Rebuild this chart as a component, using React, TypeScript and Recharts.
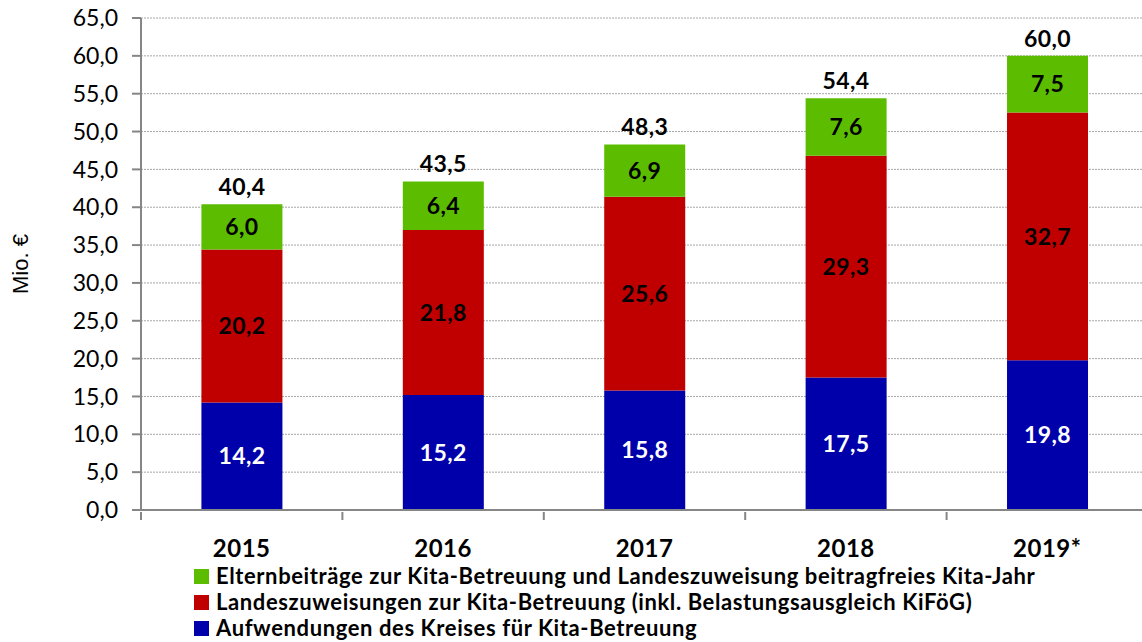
import { BarChart, Bar, XAxis, YAxis, CartesianGrid, LabelList } from 'recharts';

const years = ['2015', '2016', '2017', '2018', '2019*'];
const kreis = [14.2, 15.2, 15.8, 17.5, 19.8];
const land = [20.2, 21.8, 25.6, 29.3, 32.7];
const eltern = [6.0, 6.4, 6.9, 7.6, 7.5];
const totals = [40.4, 43.5, 48.3, 54.4, 60.0];
const yTicks = [0, 5, 10, 15, 20, 25, 30, 35, 40, 45, 50, 55, 60, 65];

const seriesNames = {
  eltern: 'Elternbeiträge zur Kita-Betreuung und Landeszuweisung beitragfreies Kita-Jahr',
  land: 'Landeszuweisungen zur Kita-Betreuung (inkl. Belastungsausgleich KiFöG)',
  kreis: 'Aufwendungen des Kreises für Kita-Betreuung',
};

const COLORS = { kreis: '#0000AA', land: '#C00000', eltern: '#5CBD00' };
const AXIS = '#868686';
const FONT = 'Lato, "Open Sans", sans-serif';

const CHART_W = 1150;
const CHART_H = 642;
const PLOT_LEFT = 141;
const PLOT_RIGHT = 2;
const BAND = (CHART_W - PLOT_LEFT - PLOT_RIGHT) / years.length;

const data = years.map((year, i) => ({
  year,
  kreis: kreis[i],
  land: land[i],
  eltern: eltern[i],
  total: totals[i],
}));

const fmt = (v: number) => v.toFixed(1).replace('.', ',');

const YearTick = (props: any) => {
  const { x, y, payload } = props;
  return (
    <g>
      <line x1={x - BAND / 2} x2={x - BAND / 2} y1={y} y2={y + 8} stroke={AXIS} strokeWidth={2} />
      <text x={x} y={y + 45} textAnchor="middle" fontFamily={FONT} fontWeight={700} fontSize={24} letterSpacing={0.5} fill="#000">
        {payload.value}
      </text>
    </g>
  );
};

const TotalLabel = (props: any) => {
  const { x, y, width, index } = props;
  return (
    <text x={x + width / 2} y={y - 9} textAnchor="middle" fontFamily={FONT} fontWeight={700} fontSize={23} letterSpacing={0.4} fill="#000">
      {fmt(totals[index])}
    </text>
  );
};

const legendRows = [
  { key: 'eltern', color: COLORS.eltern, label: seriesNames.eltern },
  { key: 'land', color: COLORS.land, label: seriesNames.land },
  { key: 'kreis', color: COLORS.kreis, label: seriesNames.kreis },
];

const segLabel = { fontFamily: FONT, fontWeight: 700, fontSize: 23, letterSpacing: 0.4 };

export default function App() {
  return (
    <div style={{ position: 'absolute', left: 0, top: 0, width: 1142, height: 642, overflow: 'hidden', background: '#fff' }}>
      <BarChart
        width={CHART_W}
        height={CHART_H}
        data={data}
        margin={{ top: 18, right: PLOT_RIGHT, left: 0, bottom: 0 }}
        barCategoryGap="30%"
      >
        <CartesianGrid vertical={false} stroke="#A6A6A6" strokeDasharray="2 1" />
        <XAxis
          dataKey="year"
          height={132}
          axisLine={{ stroke: AXIS, strokeWidth: 2 }}
          tickLine={false}
          tickSize={0}
          tick={<YearTick />}
          interval={0}
        />
        <YAxis
          width={PLOT_LEFT}
          domain={[0, 65]}
          ticks={yTicks}
          interval={0}
          axisLine={{ stroke: AXIS, strokeWidth: 2 }}
          tickLine={{ stroke: AXIS, strokeWidth: 2 }}
          tickSize={9}
          tickMargin={14}
          tickFormatter={fmt}
          tick={{ fontFamily: FONT, fontSize: 23, fill: '#000' }}
          label={{
            value: 'Mio. €',
            angle: -90,
            position: 'insideLeft',
            offset: 20,
            style: { fontFamily: '"Liberation Sans", Arial, sans-serif', fontSize: 22, fill: '#000', textAnchor: 'middle' },
          }}
        />
        <Bar dataKey="kreis" stackId="a" fill={COLORS.kreis} isAnimationActive={false}>
          <LabelList dataKey="kreis" position="center" formatter={fmt} fill="#fff" {...segLabel} />
        </Bar>
        <Bar dataKey="land" stackId="a" fill={COLORS.land} isAnimationActive={false}>
          <LabelList dataKey="land" position="center" formatter={fmt} fill="#000" {...segLabel} />
        </Bar>
        <Bar dataKey="eltern" stackId="a" fill={COLORS.eltern} isAnimationActive={false}>
          <LabelList dataKey="eltern" position="center" formatter={fmt} fill="#000" {...segLabel} />
          <LabelList dataKey="total" content={<TotalLabel />} />
        </Bar>
      </BarChart>
      <div style={{ position: 'absolute', left: 194, top: 563, fontFamily: FONT, fontWeight: 700, fontSize: 22, letterSpacing: 0.6, lineHeight: '26px', color: '#000' }}>
        {legendRows.map((r) => (
          <div key={r.key} style={{ display: 'flex', alignItems: 'center', whiteSpace: 'nowrap' }}>
            <span style={{ display: 'inline-block', width: 15, height: 15, background: r.color, marginRight: 7 }} />
            <span>{r.label}</span>
          </div>
        ))}
      </div>
    </div>
  );
}
